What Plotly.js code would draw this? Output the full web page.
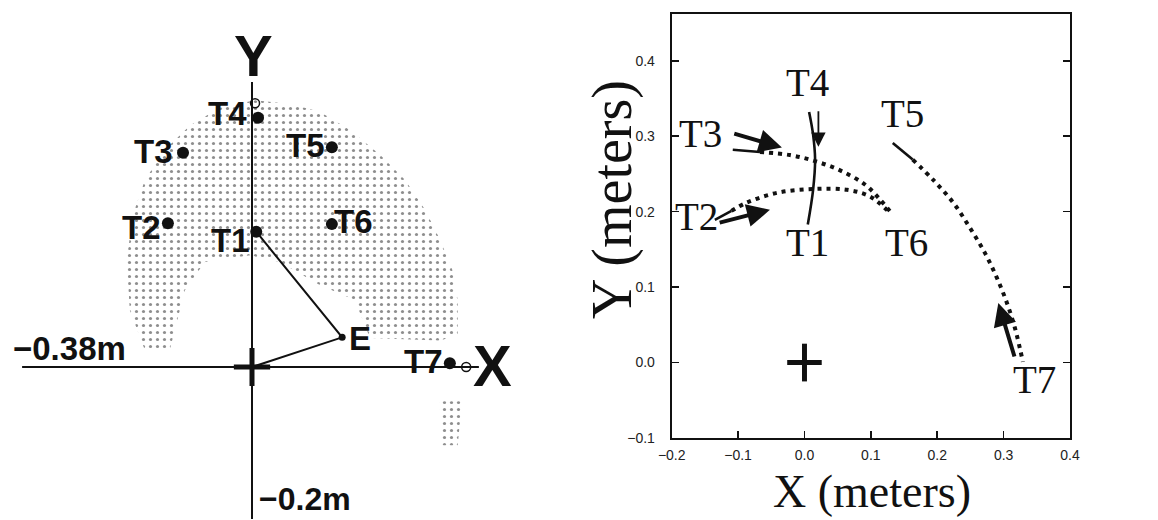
<!DOCTYPE html>
<html><head><meta charset="utf-8">
<script src="https://cdn.plot.ly/plotly-3.0.1.min.js"></script>
<style>html,body{margin:0;padding:0;background:#fff}#chart{width:1158px;height:520px}</style>
</head><body><div id="chart"></div>
<script>
// ================= LEFT PANEL: arm workspace schematic (meters) =================
const targetNames = ['T1','T2','T3','T4','T5','T6','T7'];
const targetX = [0.007, -0.139, -0.114, 0.010, 0.132, 0.132, 0.327];
const targetY = [0.178,  0.189,  0.282, 0.328, 0.289, 0.188, 0.005];
const altTargetX = [0.005, 0.354];          // open circles near T4 and T7
const altTargetY = [0.347, 0.000];
const armX = [0.000, 0.149, 0.007];          // shoulder -> elbow E -> hand (T1)
const armY = [0.000, 0.039, 0.178];
const elbowX = [0.149], elbowY = [0.039];
const axisXEnds = [-0.38, 0.375];
const axisYEnds = [-0.20, 0.375];
// dotted workspace region (outer edge then inner edge), plus small lobe below X axis
const wsX = [-0.177,-0.202,-0.207,-0.197,-0.177,-0.144,-0.102,-0.053,0.005,0.063,0.112,0.162,0.212,0.253,0.286,0.311,0.331,0.340,0.340,0.311,
             0.195,0.170,0.112,0.046,-0.003,-0.078,-0.111,-0.136,-0.177, null,
             0.347,0.340,0.312,0.310,0.347];
const wsY = [0.022,0.075,0.141,0.200,0.246,0.286,0.318,0.341,0.351,0.346,0.336,0.312,0.279,0.246,0.207,0.167,0.128,0.088,0.042,0.035,
             0.038,0.088,0.108,0.138,0.147,0.138,0.101,0.022,0.022, null,
             -0.045,-0.103,-0.103,-0.045,-0.045];

// ================= RIGHT PANEL: hand trajectories (meters) =================
const t14X = [0.005, 0.013, 0.016, 0.013, 0.007];
const t14Y = [0.183, 0.229, 0.269, 0.302, 0.332];
const t3StartX = [-0.108, -0.067], t3StartY = [0.282, 0.279];
const t3PathX = [-0.067, -0.022, 0.016, 0.053, 0.091, 0.114, 0.133];
const t3PathY = [ 0.279,  0.275, 0.267, 0.255, 0.236, 0.216, 0.196];
const t2StartX = [-0.135, -0.110], t2StartY = [0.189, 0.201];
const t2PathX = [-0.110, -0.087, -0.041, 0.013, 0.064, 0.099, 0.129];
const t2PathY = [ 0.201,  0.212,  0.225, 0.230, 0.229, 0.220, 0.198];
const t5StartX = [0.133, 0.163], t5StartY = [0.291, 0.269];
const t5PathX = [0.163, 0.194, 0.224, 0.249, 0.272, 0.290, 0.305, 0.317, 0.325, 0.329];
const t5PathY = [0.269, 0.242, 0.212, 0.179, 0.145, 0.112, 0.079, 0.046, 0.017, 0.001];
const originX = [0], originY = [0];
// direction arrows: tail -> head
const arrowTailX = [-0.108, -0.130, 0.021, 0.317];
const arrowTailY = [ 0.304,  0.185, 0.335, 0.006];
const arrowHeadX = [-0.034, -0.052, 0.021, 0.292];
const arrowHeadY = [ 0.285,  0.2025, 0.286, 0.079];
const xTicks = [-0.2, -0.1, 0.0, 0.1, 0.2, 0.3, 0.4];
const yTicks = [-0.1, 0.0, 0.1, 0.2, 0.3, 0.4];

// ---- label placement (layout, not data)
const leftLabelPos = {T1:[-0.035,0.166],T2:[-0.182,0.183],T3:[-0.162,0.284],T4:[-0.040,0.333],
                      T5:[0.088,0.291],T6:[0.167,0.192],T7:[0.283,0.007]};
const rightLabelPos = {T1:[0.004,0.159],T2:[-0.162,0.194],T3:[-0.156,0.303],T4:[0.004,0.371],
                       T5:[0.147,0.330],T6:[0.154,0.159],T7:[0.346,-0.022]};

const W = 1158, H = 520;
const leftDom = [0, 521/W];
const rightDomX = [671.7/W, 1070/W];
const rightDomY = [1-438/H, 1-14/H];

const blk = '#111';
const traces = [];
// workspace stipple
traces.push({x: wsX, y: wsY, xaxis:'x', yaxis:'y', mode:'lines', fill:'toself',
  line:{width:0, color:'rgba(0,0,0,0)'}, fillcolor:'rgba(0,0,0,0)',
  fillpattern:{shape:'.', size:7, solidity:0.16, fgcolor:'#7a7a7a', fgopacity:0.85, fillmode:'replace'},
  hoverinfo:'skip'});
// axes lines
traces.push({x: axisXEnds, y:[0,0], xaxis:'x', yaxis:'y', mode:'lines', line:{color:blk, width:2}, hoverinfo:'skip'});
traces.push({x: [0,0], y: axisYEnds, xaxis:'x', yaxis:'y', mode:'lines', line:{color:blk, width:2}, hoverinfo:'skip'});
// thick cross at shoulder
const lc = 0.030, lcy = 0.025;
traces.push({x:[originX[0]-lc, originX[0]+lc, null, originX[0], originX[0]], y:[originY[0], originY[0], null, originY[0]-lcy, originY[0]+lcy],
  xaxis:'x', yaxis:'y', mode:'lines', line:{color:blk, width:5}, hoverinfo:'skip'});
// arm
traces.push({x: armX, y: armY, xaxis:'x', yaxis:'y', mode:'lines', line:{color:blk, width:2}, hoverinfo:'skip'});
traces.push({x: elbowX, y: elbowY, xaxis:'x', yaxis:'y', mode:'markers', marker:{color:blk, size:7}, hoverinfo:'skip'});
// targets
traces.push({x: targetX, y: targetY, xaxis:'x', yaxis:'y', mode:'markers', marker:{color:blk, size:12}, text: targetNames, hoverinfo:'text'});
traces.push({x: altTargetX, y: altTargetY, xaxis:'x', yaxis:'y', mode:'markers', marker:{symbol:'circle-open', color:blk, size:9, line:{width:1.5}}, hoverinfo:'skip'});

// right panel
const solid = {color:blk, width:2.6};
const dotted = {color:blk, width:4, dash:'4px,5px', shape:'spline'};
traces.push({x:t14X, y:t14Y, xaxis:'x2', yaxis:'y2', mode:'lines', line:Object.assign({shape:'spline'}, solid), hoverinfo:'skip'});
traces.push({x:t3StartX, y:t3StartY, xaxis:'x2', yaxis:'y2', mode:'lines', line:solid, hoverinfo:'skip'});
traces.push({x:t3PathX, y:t3PathY, xaxis:'x2', yaxis:'y2', mode:'lines', line:dotted, hoverinfo:'skip'});
traces.push({x:t2StartX, y:t2StartY, xaxis:'x2', yaxis:'y2', mode:'lines', line:solid, hoverinfo:'skip'});
traces.push({x:t2PathX, y:t2PathY, xaxis:'x2', yaxis:'y2', mode:'lines', line:dotted, hoverinfo:'skip'});
traces.push({x:t5StartX, y:t5StartY, xaxis:'x2', yaxis:'y2', mode:'lines', line:solid, hoverinfo:'skip'});
traces.push({x:t5PathX, y:t5PathY, xaxis:'x2', yaxis:'y2', mode:'lines', line:dotted, hoverinfo:'skip'});
const rc = 0.026, rcy = 0.025;
traces.push({x:[originX[0]-rc, originX[0]+rc, null, originX[0], originX[0]], y:[originY[0], originY[0], null, originY[0]-rcy, originY[0]+rcy],
  xaxis:'x2', yaxis:'y2', mode:'lines', line:{color:blk, width:5}, hoverinfo:'skip'});

const annotations = [];
const boldFont = (s) => ({family:'Liberation Sans, Arial, sans-serif', size:s, color:blk, weight:'bold'});
targetNames.forEach(n => {
  const p = leftLabelPos[n];
  annotations.push({xref:'x', yref:'y', x:p[0], y:p[1], text:'<b>'+n+'</b>', showarrow:false, font:boldFont(33), xanchor:'center', yanchor:'middle'});
});
annotations.push({xref:'x', yref:'y', x:0.179, y:0.038, text:'<b>E</b>', showarrow:false, font:boldFont(33)});
annotations.push({xref:'x', yref:'y', x:0.003, y:0.410, text:'<b>Y</b>', showarrow:false, font:boldFont(58)});
annotations.push({xref:'x', yref:'y', x:0.397, y:0.002, text:'<b>X</b>', showarrow:false, font:boldFont(58)});
annotations.push({xref:'x', yref:'y', x:-0.301, y:0.024, text:'<b>\u22120.38m</b>', showarrow:false, font:boldFont(33)});
annotations.push({xref:'x', yref:'y', x:0.008, y:-0.2005, text:'<b>\u22120.2m</b>', showarrow:false, font:boldFont(32), xanchor:'left', yanchor:'bottom'});

const serif = (s) => ({family:'Liberation Serif, Times New Roman, serif', size:s, color:blk});
targetNames.forEach(n => {
  const p = rightLabelPos[n];
  annotations.push({xref:'x2', yref:'y2', x:p[0], y:p[1], text:n, showarrow:false, font:serif(39), xanchor:'center', yanchor:'middle'});
});
arrowHeadX.forEach((hx, i) => {
  const thin = i === 2;
  annotations.push({xref:'x2', yref:'y2', axref:'x2', ayref:'y2', x:hx, y:arrowHeadY[i], ax:arrowTailX[i], ay:arrowTailY[i],
    text:'', showarrow:true, arrowhead:2, arrowsize: thin ? 1.6 : 1.15, arrowwidth: thin ? 1.8 : 4, arrowcolor:blk, standoff:0, startstandoff:0});
});
annotations.push({xref:'paper', yref:'paper', x:613/W, y:1-200/H, text:'Y (meters)', textangle:-90, showarrow:false, font:serif(56), xanchor:'center', yanchor:'middle'});
annotations.push({xref:'paper', yref:'paper', x:872/W, y:1-491/H, text:'X (meters)', showarrow:false, font:serif(46), xanchor:'center', yanchor:'middle'});

const layout = {
  width: W, height: H, margin:{l:0, r:0, t:0, b:0}, showlegend:false,
  paper_bgcolor:'#fff', plot_bgcolor:'rgba(0,0,0,0)',
  xaxis:{domain:leftDom, range:[(0-252)/605, (521-252)/605], visible:false, fixedrange:true},
  yaxis:{domain:[0,1], range:[-(520-367)/760, 367/760], visible:false, fixedrange:true},
  xaxis2:{domain:rightDomX, anchor:'y2', range:[-0.2, 0.4], tickvals:xTicks, tickformat:'.1f',
    showline:true, mirror:true, linecolor:blk, linewidth:2, ticks:'inside', ticklen:7, tickwidth:1.5, tickcolor:blk,
    showgrid:false, zeroline:false, tickfont:{family:'Liberation Sans, Arial, sans-serif', size:14, color:'#222'}, ticklabelstandoff:3},
  yaxis2:{domain:rightDomY, anchor:'x2', range:[-0.1, 0.462], tickvals:yTicks, tickformat:'.1f',
    showline:true, mirror:'ticks', linecolor:blk, linewidth:2, ticks:'inside', ticklen:7, tickwidth:1.5, tickcolor:blk,
    showgrid:false, zeroline:false, tickfont:{family:'Liberation Sans, Arial, sans-serif', size:14, color:'#222'}, ticklabelstandoff:12},
  annotations: annotations
};
Plotly.newPlot('chart', traces, layout, {displayModeBar:false, staticPlot:true});
</script>
</body></html>
